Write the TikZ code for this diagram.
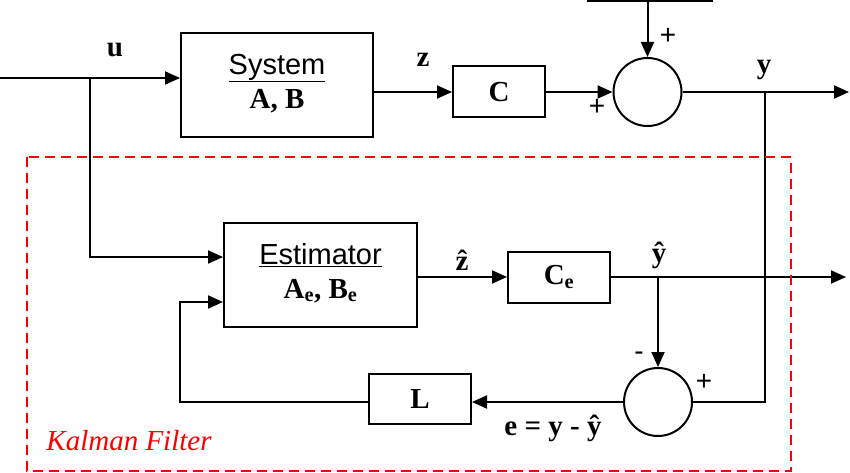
\documentclass[tikz,border=0pt]{standalone}
\usepackage{fontspec}
\setmainfont{Liberation Serif}
\setsansfont{Liberation Sans}
\usetikzlibrary{arrows.meta}

\begin{document}
\begin{tikzpicture}[x=1pt,y=-1pt,
    line width=2pt,
    block/.style={draw, rectangle, inner sep=0pt, font=\fontsize{29}{31}\selectfont\bfseries},
    sumnode/.style={draw, circle, minimum size=68pt, inner sep=0pt},
    lbl/.style={font=\fontsize{29}{31}\selectfont\bfseries},
    sgn/.style={font=\fontsize{28}{30}\selectfont\sffamily},
    sig/.style={-{Triangle[length=15pt,width=13pt]}}]
  \useasboundingbox (0,0) rectangle (850,473);

  %% plant
  \node[block, minimum width=192pt, minimum height=104pt] (sys) at (277,85)
    {\raisebox{7pt}{\begin{tabular}{c}{\fontsize{29}{31}\selectfont\sffamily\mdseries\underline{System}}\\[3pt]A, B\end{tabular}}};
  \node[block, minimum width=92pt, minimum height=51pt] (cbox) at (499,92) {C};
  \node[sumnode] (sum1) at (647.5,92) {};

  %% filter
  \node[block, minimum width=193pt, minimum height=104pt] (est) at (320.5,275)
    {\raisebox{7pt}{\begin{tabular}{c}{\fontsize{29}{31}\selectfont\sffamily\mdseries\underline{Estimator}}\\[3pt]A\textsubscript{e}, B\textsubscript{e}\end{tabular}}};
  \node[block, minimum width=102pt, minimum height=51pt] (cebox) at (559,277) {C\textsubscript{e}};
  \node[block, minimum width=102pt, minimum height=50pt] (lbox) at (420,399) {L};
  \node[sumnode] (sum2) at (658,402) {};

  \coordinate (uin) at (0,78);
  \coordinate (ubr) at (90,78);
  \coordinate (nin) at (647.5,1);
  \coordinate (ytap) at (765,92);
  \coordinate (yout) at (849,92);
  \coordinate (yhout) at (846,277);
  \coordinate (fbk) at (180,402);

  %% connectors
  \draw (587,1) -- (713,1);
  \draw[sig] (uin) -- (uin -| sys.west);
  \draw[sig] (ubr) |- ([yshift=18pt]est.west);
  \draw[sig] (sys.east |- cbox) -- (cbox.west);
  \draw[sig] (cbox.east) -- (sum1.west);
  \draw[sig] (nin) -- (sum1.north);
  \draw[sig] (sum1.east) -- (yout);
  \draw (ytap) |- (sum2.east);
  \draw[sig] (est.east |- cebox) -- (cebox.west);
  \draw[sig] (cebox.east) -- (yhout);
  \draw[sig] (sum2 |- cebox.east) -- (sum2.north);
  \draw[sig] (sum2.west) -- (sum2.west -| lbox.east);
  \draw[sig] (lbox.west |- fbk) -- (fbk) |- ([yshift=-27pt]est.west);

  %% labels
  \node[lbl] (ulbl) at (115,50) {u};
  \node[lbl] (zlbl) at (423,60) {z};
  \node[lbl] (ylbl) at (764,70) {y};
  \node[lbl] (zhlbl) at (462,260) {\^{z}};
  \node[lbl] (yhlbl) at (659,255) {\^{y}};
  \node[lbl] (elbl) at (553,428) {e = y - \^{y}};
  \node[sgn] (p1) at (668,36) {+};
  \node[sgn] (p2) at (597,107) {+};
  \node[sgn] (m3) at (639,356) {-};
  \node[sgn] (p4) at (704,382) {+};

  %% Kalman filter frame
  \draw[red, dash pattern=on 10pt off 6pt] (27,157) rectangle (791,471);
  \node[red, font=\fontsize{29}{31}\selectfont\itshape] (kf) at (129,441) {Kalman Filter};
\end{tikzpicture}
\end{document}
